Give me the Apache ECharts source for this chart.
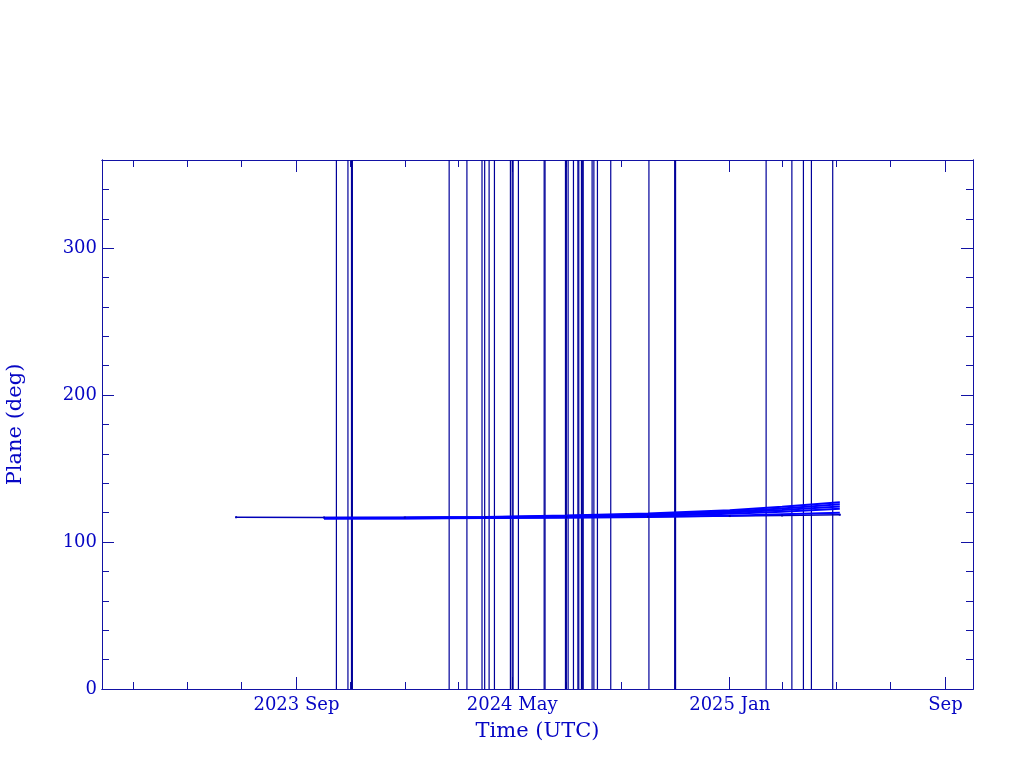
<!DOCTYPE html>
<html><head><meta charset="utf-8">
<script src="https://cdn.jsdelivr.net/npm/echarts@6/dist/echarts.min.js"></script>
<style>html,body{margin:0;padding:0;background:#fff}#c{width:1024px;height:768px}</style>
</head><body><div id="c"></div>
<script>
// ---- data ----
const xMin = '2023-01-25';
const xMax = '2025-10-02';
const majorTickDates = ['2023-09-01', '2024-05-01', '2025-01-01', '2025-09-01'];
const majorTickLabels = ['2023 Sep', '2024 May', '2025 Jan', 'Sep'];
const minorTickDates = ['2023-03-01','2023-05-01','2023-07-01','2023-09-01','2023-11-01',
  '2024-01-01','2024-03-01','2024-05-01','2024-07-01','2024-09-01','2024-11-01',
  '2025-01-01','2025-03-01','2025-05-01','2025-07-01','2025-09-01'];
const yMajorTicks = [0, 100, 200, 300];
const yMinorTicks = [20,40,60,80,120,140,160,180,220,240,260,280,320,340];

// dates where the plane trace wraps (vertical lines spanning 0..360)
const wrapDates = ['2023-10-16','2023-10-29','2023-11-02','2023-11-03',
  '2024-02-20','2024-03-11','2024-03-28','2024-03-31','2024-04-05','2024-04-11',
  '2024-04-29','2024-05-01','2024-05-02','2024-05-08',
  '2024-06-06','2024-06-07','2024-06-30','2024-07-01','2024-07-03','2024-07-09',
  '2024-07-14','2024-07-15','2024-07-18','2024-07-19','2024-07-20',
  '2024-07-30','2024-08-01','2024-08-05','2024-08-20','2024-10-02',
  '2024-10-31','2024-11-01','2025-02-11','2025-03-12','2025-03-25','2025-04-03','2025-04-27'];

const traceDates = ['2023-10-02','2024-01-01','2024-04-01','2024-07-01','2024-10-01','2025-01-01','2025-03-01','2025-05-05'];
const planeA_dates = ['2023-06-25','2023-10-02','2024-01-01','2024-04-01','2024-07-01','2024-10-01','2025-01-01','2025-03-01','2025-05-05'];
const planeA = [116.9, 116.7, 116.7, 116.8, 117.0, 117.3, 117.7, 118.1, 118.6];
const planeB = [116.0, 116.1, 116.3, 116.6, 117.1, 117.9, 118.9, 120.0];
const planeC = [116.1, 116.2, 116.5, 117.0, 117.8, 119.2, 120.6, 122.6];
const planeD = [116.3, 116.4, 116.7, 117.4, 118.4, 120.1, 121.8, 124.2];
const planeE = [116.4, 116.6, 116.9, 117.7, 118.9, 120.8, 122.9, 125.7];
const planeF = [116.5, 116.7, 117.1, 118.0, 119.4, 121.6, 124.0, 127.1];

// ---- build ----
const T = d => Date.parse(d + 'T00:00:00Z');
const axisColor = '#1212a4';
const textColor = '#0606c4';
const fontFam = 'DejaVu Serif';
const majT = majorTickDates.map(T);
const minT = minorTickDates.map(T);

function xAxisDef(pos, ticks, len, labels, name) {
  return {
    type: 'value', position: pos, min: T(xMin), max: T(xMax), scale: true,
    axisLine: { show: true, onZero: false, lineStyle: { color: axisColor, width: 1 } },
    axisTick: { show: true, inside: true, length: len, customValues: ticks, lineStyle: { color: axisColor, width: 1 } },
    axisLabel: labels ? {
      show: true, customValues: majT, margin: 7, color: textColor, fontFamily: fontFam, fontSize: 18,
      formatter: v => { const i = majT.indexOf(Number(v)); return i >= 0 ? majorTickLabels[i] : ''; }
    } : { show: false },
    splitLine: { show: false }, minorTick: { show: false },
    name: name || '', nameLocation: 'middle', nameGap: 32,
    nameTextStyle: { color: textColor, fontFamily: fontFam, fontSize: 21 }
  };
}
function yAxisDef(pos, ticks, len, labels, name) {
  return {
    type: 'value', position: pos, min: 0, max: 360,
    axisLine: { show: true, onZero: false, lineStyle: { color: axisColor, width: 1 } },
    axisTick: { show: true, inside: true, length: len, customValues: ticks, lineStyle: { color: axisColor, width: 1 } },
    axisLabel: labels ? { show: true, customValues: yMajorTicks, margin: 5, color: textColor, fontFamily: fontFam, fontSize: 18 } : { show: false },
    splitLine: { show: false },
    name: name || '', nameLocation: 'middle', nameGap: 76, nameRotate: 90,
    nameTextStyle: { color: textColor, fontFamily: fontFam, fontSize: 21 }
  };
}

const series = [];
wrapDates.forEach(d => {
  series.push({
    type: 'line', xAxisIndex: 0, yAxisIndex: 0, showSymbol: false, silent: true,
    data: [[T(d), 0], [T(d), 360]],
    lineStyle: { color: '#00009a', width: 1.2 }
  });
});
series.push({
  type: 'line', xAxisIndex: 0, yAxisIndex: 0, silent: true,
  showSymbol: true, symbol: 'rect', symbolSize: 2,
  data: planeA_dates.map((d, i) => [T(d), planeA[i]]),
  itemStyle: { color: '#0000b8' },
  lineStyle: { color: '#0000b8', width: 1.5 }
});
[planeB, planeC, planeD, planeE, planeF].forEach(arr => {
  series.push({
    type: 'line', xAxisIndex: 0, yAxisIndex: 0, showSymbol: false, silent: true,
    data: traceDates.map((d, i) => [T(d), arr[i]]),
    lineStyle: { color: '#0000ff', width: 2 }
  });
});

const chart = echarts.init(document.getElementById('c'), null, { renderer: 'canvas' });
chart.setOption({
  animation: false,
  backgroundColor: '#ffffff',
  grid: { left: 102, top: 160, right: 51, bottom: 79, containLabel: false, outerBoundsMode: 'none' },
  xAxis: [
    xAxisDef('bottom', majT, 12, true, 'Time (UTC)'),
    xAxisDef('bottom', minT, 7, false),
    xAxisDef('top', majT, 12, false),
    xAxisDef('top', minT, 7, false)
  ],
  yAxis: [
    yAxisDef('left', yMajorTicks, 12, true, 'Plane (deg)'),
    yAxisDef('left', yMinorTicks, 7, false),
    yAxisDef('right', yMajorTicks, 12, false),
    yAxisDef('right', yMinorTicks, 7, false)
  ],
  series: series
});
</script></body></html>
